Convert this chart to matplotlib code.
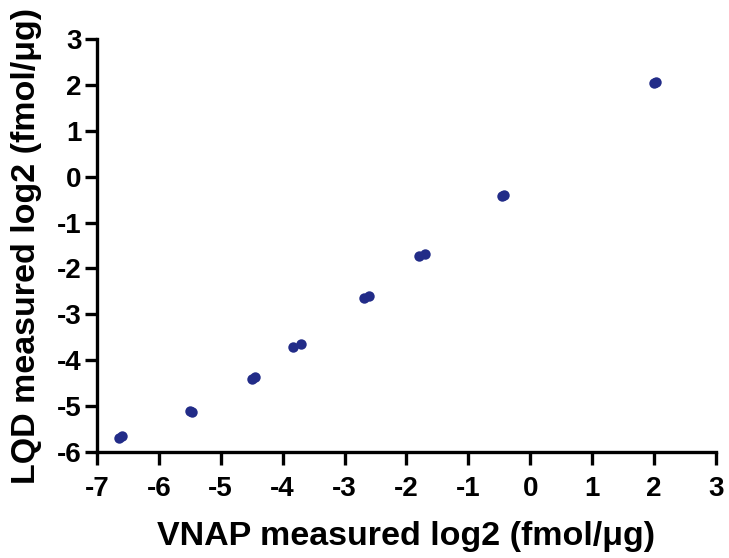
import numpy as np
import matplotlib
matplotlib.use("Agg")
import matplotlib.pyplot as plt

plt.rcParams['font.family'] = ['Liberation Sans', 'DejaVu Sans']
plt.rcParams['font.weight'] = 'bold'

# data
vnap = [-6.64, -6.60, -5.50, -5.46, -4.50, -4.44, -3.84, -3.71,
        -2.68, -2.61, -1.79, -1.70, -0.45, -0.43, 2.00, 2.04]
lqd = [-5.69, -5.65, -5.10, -5.12, -4.41, -4.37, -3.71, -3.65,
       -2.65, -2.59, -1.73, -1.69, -0.43, -0.40, 2.04, 2.07]
x_ticks = np.arange(-7, 4, 1)
y_ticks = np.arange(-6, 4, 1)

fig = plt.figure(figsize=(7.29, 5.58), dpi=100)
ax = fig.add_axes([0.133, 0.19, 0.849, 0.74])

ax.plot(vnap, lqd, 'o', color='#222c88', markersize=7.5, markeredgewidth=0, zorder=3)

ax.set_xlim(-7, 3)
ax.set_ylim(-6, 3)
ax.set_xticks(x_ticks)
ax.set_yticks(y_ticks)
ax.set_xticklabels([str(v) for v in x_ticks])
ax.set_yticklabels([str(v) for v in y_ticks])

for s in ('top', 'right'):
    ax.spines[s].set_visible(False)
for s in ('left', 'bottom'):
    ax.spines[s].set_linewidth(2.4)
ax.tick_params(direction='out', length=9, width=2.4, labelsize=20)
ax.tick_params(axis='x', pad=8)
ax.tick_params(axis='y', pad=2)

ax.set_xlabel('VNAP measured log2 (fmol/μg)', fontsize=24.5, fontweight='bold', labelpad=14)
ax.set_ylabel('LQD measured log2 (fmol/μg)', fontsize=24.5, fontweight='bold', labelpad=11)

fig.savefig('out.png', dpi=100)
